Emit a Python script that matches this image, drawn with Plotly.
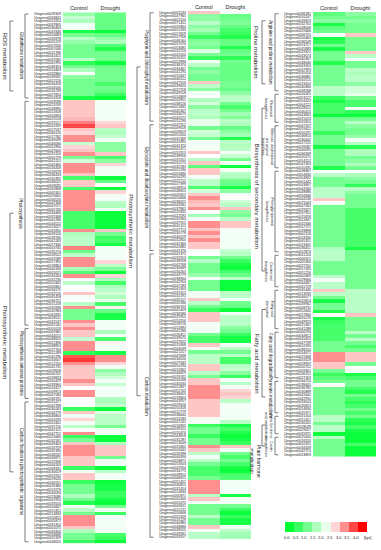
import plotly.graph_objects as go

W, H = 381, 550

# ---------------- DATA ----------------
col1_ids = """
0028309 0034841 0051824 0037865 0036463 0043346 0050683 0032878 0005229 0007006
0007046 0025786 0042415 0047085 0041995 0036353 0054463 0032860 0039081 0052126
0034458 0044506 0016739 0027854 0053318 0009098 0023749 0026890 0015658 0010843
0025518 0025517 0041929 0017537 0036120 0017782 0049099 0046066 0052960 0047600
0037416 0000729 0041152 0045460 0026458 0026678 0036433 0032492 0036025 0009635
0032868 0005301 0025662 0056526 0047308 0047071 0005746 0034466 0037468 0041286
0044522 0013027 0041850 0039116 0028746 0042263 0027340 0003745 0035274 0018522
0042589 0017392 0018864 0040184 0005015 0034264 0032230 0054305 0000801 0034175
0032526 0045458 0036722 0051258 0032696 0045983 0041845 0028511 0041537 0037242
0005018 0009382 0044015 0048620
0021390 0038853 0027764 0011289 0045296 0034007 0012250 0041731 0029658 0006741
0018823 0050429 0033960 0024417 0009913 0047580 0036191 0015477
0042768 0030263 0044779 0046804 0041093 0052401 0037716 0042115 0047752 0025660
0032181 0049463 0016759 0035390 0048242 0030871 0022908 0044163 0008345 0030619
0053742 0019020 0040551 0026384 0013276 0040094 0023086 0042950 0033503 0050667
0051451 0014834 0020815 0005872 0031454 0001075 0043400 0056668 0055329 0048025
""".split()

col1_control = [
    1.3, 1.7, 1.5, 2.1, 2.1, 0.2, 1.0, 1.6, 1.3, 1.0, 1.0, 1.0, 1.0, 1.6, 0.4, 1.0, 1.5, 2.2, 1.2, 1.0,
    1.0, 1.0, 1.0, 1.0, 0.2,
    2.6, 2.6, 2.6, 2.6, 2.6, 2.7, 3.1, 3.5, 2.6, 2.5,
    3.0, 3.0, 1.7, 2.5, 2.6, 3.0, 1.0, 1.8, 3.0, 3.0, 3.0, 2.6, 0.6, 2.6, 2.6, 0.6, 3.0, 3.0, 3.0, 3.0,
    3.0, 3.0, 0.6, 0.6, 0.6, 0.6, 0.6, 3.0, 1.5, 1.6, 1.6, 1.6, 3.1, 0.9, 1.6, 3.0, 3.0, 3.0, 1.4, 0.7,
    3.0, 2.2, 1.6, 2.2, 2.2, 2.6, 2.1, 2.2, 1.6, 3.0, 1.0, 1.0, 1.0, 3.0, 2.6, 3.0, 2.6, 2.6, 1.7, 3.0,
    3.0, 3.0, 0.4, 3.4, 3.6, 3.0, 2.6, 2.6, 2.6, 2.6, 3.0, 2.6, 2.2, 3.0, 3.0, 2.2, 2.2,
    2.2, 0.5, 2.6, 2.1, 2.5, 2.1, 1.6, 2.2, 3.0, 0.5, 1.0, 2.6, 3.0, 3.0, 3.0, 2.6, 2.6, 2.6, 0.5, 2.1,
    2.6, 2.6, 0.5, 1.0, 1.0, 1.0, 1.5, 1.0, 0.3, 2.1, 1.6, 1.0, 3.0, 3.0, 3.0, 2.6, 1.5, 1.0, 1.0, 0.5,
]
col1_drought = [
    0.9, 0.9, 0.9, 0.9, 0.9, 0.1, 0.9, 1.3, 1.5, 0.7, 0.3, 1.0, 1.0, 1.0, 0.1, 0.9, 1.0, 1.0, 1.0, 1.0,
    0.6, 1.0, 0.9, 0.5, 0.1,
    2.1, 2.1, 2.1, 2.1, 2.1, 2.1, 2.5, 2.6, 1.6, 1.5,
    1.7, 2.1, 1.2, 1.2, 1.2, 2.6, 0.6, 1.2, 2.5, 2.1, 2.1, 2.1, 0.1, 0.9, 2.2, 0.1, 2.5, 2.1, 2.1, 1.6,
    1.5, 2.1, 0.1, 0.1, 0.1, 0.1, 0.1, 2.6, 1.0, 0.5, 0.6, 0.2, 2.1, 2.1, 2.1, 2.1, 2.5, 1.6, 1.1, 0.1,
    2.5, 1.5, 0.6, 1.5, 1.6, 1.8, 1.5, 2.0, 0.6, 2.3, 0.9, 0.2, 0.2, 2.1, 2.1, 2.1, 1.5, 2.1, 0.6, 2.3,
    2.1, 2.1, 0.2, 3.0, 3.0, 2.5, 2.1, 1.2, 1.5, 1.8, 2.1, 1.7, 2.1, 2.1, 2.1, 1.5, 1.5,
    1.7, 0.1, 1.9, 1.6, 1.6, 1.6, 1.0, 2.1, 2.1, 0.1, 0.1, 1.5, 2.6, 2.6, 2.6, 1.0, 2.1, 2.1, 0.1, 1.6,
    2.1, 2.1, 0.1, 0.2, 0.2, 0.5, 0.5, 0.2, 0.1, 1.0, 2.1, 0.5, 2.1, 2.1, 2.1, 2.1, 2.1, 0.6, 0.5, 0.1,
]

col2_ids = """
0002243 0047965 0011150 0071451 0032860 0051333 0017659 0017958 0046160 0057070
0053085 0032216 0041024 0016251 0052896 0036374 0044461 0041295 0015637 0046112
0047316 0039624 0027118 0049518 0014809 0032851 0038126 0021845 0045307 0033079
0040572 0052290 0047312 0049618 0009619 0052050 0041369 0041892 0041370 0041371
0051913 0038956 0037451 0031575 0032183 0052190 0050846 0054295 0025715 0027399
0048914 0048815 0045815 0050666 0038415 0043581 0037862 0025832 0022592 0031964
0047315 0045112 0047713 0030778 0040519 0032850 0041360 0041882 0041376 0041372
0031913 0038958 0042768 0030849 0030263 0044779 0038904 0042954 0047183 0041903
0037412 0032192 0035117 0032186 0030763 0042409 0036586 0025952 0053256 0028716
0011893 0042286 0026451 0039075 0037622 0015908 0044039 0021157 0047698 0034520
0027583 0050294 0013362 0046829 0019741 0033268 0045630 0022847 0051702 0038455
0018664 0043957 0029016 0050318 0012779 0036640 0024183 0047241 0016905 0039552
0020476 0044818 0031287 0053009
0025802 0041642 0026398 0040094 0028871 0053503 0042950 0034773 0048914 0046815
0051451 0030815 0031454 0014834 0005871 0041400 0001075 0043611 0015211 0056668
0055329 0025129 0040885 0048686 0039015 0043581 0033557
""".split()

col2_control = [
    2.6, 1.2, 1.2, 1.6, 1.2, 1.4, 1.0, 0.5, 1.1, 1.2, 1.0, 1.9, 1.1, 0.5, 2.1, 1.6, 1.0, 1.2, 1.0, 1.0,
    2.6, 1.6, 1.2, 2.1, 2.2, 1.5, 1.8, 1.2, 1.6, 1.6, 1.5, 2.0,
    2.0, 1.0, 1.8, 1.7,
    1.0, 2.1, 2.1, 2.1, 2.6, 2.2, 1.6, 2.6, 0.8, 2.6, 2.6, 2.1, 1.6, 1.6, 0.7, 1.8, 2.6, 3.0, 2.7, 2.6,
    3.0, 2.2, 1.4, 2.1, 3.0, 3.0, 2.6, 3.0, 2.6, 3.0, 2.6, 2.6, 2.1, 2.2, 1.0, 1.6, 1.0, 1.0, 1.0,
    1.3, 2.1, 1.0, 1.0, 1.0, 2.1, 2.1, 2.6, 1.6, 1.0, 0.5, 2.6, 2.6, 2.6, 2.1, 2.1, 2.1, 1.0, 0.6, 0.6,
    2.6, 2.1, 1.0, 1.6, 1.6, 1.6, 2.6, 2.6, 1.6, 1.0, 2.6, 2.6, 3.0, 3.0, 3.0, 3.0, 2.6, 2.6, 2.6,
    2.6, 2.6, 2.1, 2.1, 0.5, 1.0, 1.0, 0.5, 1.0, 1.0, 3.0, 2.6, 1.6, 2.1, 1.6, 1.0, 0.6, 0.6, 0.6, 1.0,
    3.0, 3.0, 3.0, 3.0, 1.6, 2.6, 2.1, 1.0, 1.0, 1.0, 1.6, 1.0, 1.0, 2.6, 2.1, 1.6, 1.6,
]
col2_drought = [
    2.1, 0.9, 1.0, 1.1, 0.9, 0.6, 0.5, 0.3, 0.9, 0.9, 0.3, 0.9, 1.0, 0.4, 1.0, 0.9, 0.9, 0.9, 0.9, 0.9,
    1.0, 1.0, 0.9, 1.2, 1.6, 1.6, 1.0, 0.6, 1.0, 1.4, 1.1, 1.6,
    1.5, 0.9, 1.2, 1.4,
    0.3, 1.6, 1.5, 1.6, 2.1, 1.7, 1.0, 2.1, 0.1, 2.1, 1.6, 1.5, 1.0, 0.9, 0.2, 1.2, 2.1, 2.2, 1.8, 1.6,
    2.6, 1.2, 1.0, 1.6, 2.6, 2.6, 2.1, 2.1, 2.1, 2.1, 2.1, 2.1, 1.7, 1.6, 1.0, 0.5, 0.2, 0.1, 0.6,
    0.9, 1.6, 0.1, 0.1, 0.1, 1.6, 1.6, 2.1, 1.0, 0.9, 0.1, 2.1, 1.6, 1.6, 1.6, 1.2, 1.0, 0.5, 0.2, 0.2,
    2.1, 1.6, 1.0, 1.6, 0.6, 0.6, 1.6, 1.7, 1.2, 0.5, 2.1, 1.6, 2.1, 2.5, 2.6, 2.5, 1.6, 2.1, 2.1,
    2.1, 2.1, 2.1, 1.6, 0.2, 0.6, 0.3, 0.1, 0.2, 0.5, 2.6, 2.1, 1.0, 0.6, 1.0, 0.6, 0.2, 0.1, 0.6, 0.7,
    2.1, 2.1, 2.1, 2.1, 0.2, 2.1, 2.1, 1.0, 0.5, 0.1, 0.5, 0.2, 0.2, 2.1, 1.6, 1.4, 1.4,
]

col3_ids = """
0036281 0010247 0028323 0032701 0048008 0059466 0006721 0050463 0036549 0053717
0045883 0029322 0043574 0040367 0048046 0003163 0037993 0035454 0036881 0050515
0023410 0040366 0048268 0016325 0053127 0054423 0004122 0028012 0040415 0043832
0015013 0055815 0047207 0019412 0050231 0036814 0030042 0027125 0026087 0040095
0046309 0020175 0054152 0047303 0010335 0036867 0054830 0054832 0001442 0043807
0044184 0048886 0050846 0044136 0021043 0047262 0029327 0037951 0015818 0011847
0032346 0057172 0033898 0002118 0024330 0045351 0013405 0036451 0052874 0011254
0000551 0005356 0027701 0017335 0055226 0002469 0029666 0044467 0001729 0045446
0013590 0046077 0022814 0039962 0008731 0052605 0017844 0031176 0049923 0025367
0041288 0006594 0034812 0020453 0047739 0011926 0038250 0054671 0027408 0043119
0018937 0050752 0009461
0036152 0027163 0034254 0038405 0036782 0030889 0041642 0042950 0033503 0020815
0014834 0025971 0031454 0051451 0030241 0028028 0029027 0031871 0025420 0016520
0050911 0034328 0042713 0053893
""".split()

col3_control = [
    0.8, 1.0, 1.2, 0.2, 0.8, 1.0, 2.1, 0.2, 0.4, 1.0, 0.2, 1.0, 1.0, 1.0, 0.3, 1.0, 1.0, 1.0, 1.0, 1.0,
    1.0, 1.6, 1.6, 1.6, 0.5, 0.2, 0.6, 0.6, 0.6, 0.1, 1.0, 1.0, 1.0, 1.0, 0.5, 1.0,
    1.0, 1.0, 0.2, 1.0, 1.0, 1.0, 1.0, 1.0, 0.3, 2.2, 1.6, 1.0, 1.0, 1.0, 1.6, 1.6, 1.6, 2.6, 2.1, 1.0,
    1.0, 1.0, 1.0, 1.0, 1.0, 1.0, 1.0, 1.0, 1.0, 1.0, 1.0, 1.5, 1.6, 1.6, 1.6, 1.0, 1.0, 1.0,
    1.0, 1.6, 2.1, 1.6, 1.6, 2.6, 1.6, 1.0, 0.2, 1.0, 1.0, 0.3, 2.2, 0.2, 0.5, 0.6, 0.6, 0.6, 0.6, 0.6,
    1.0, 1.0, 1.0, 3.0, 3.0, 3.0, 2.6, 2.6, 1.0, 0.5, 0.8, 1.0, 2.2, 1.0, 1.0, 1.0, 1.0, 1.0, 1.0,
    1.0, 1.0, 1.6, 1.6, 1.0, 1.6, 1.6, 0.1, 1.6, 1.0, 1.0, 1.0, 1.0, 1.0,
]
col3_drought = [
    1.2, 1.0, 1.2, 1.0, 1.0, 1.0, 2.6, 1.0, 1.0, 1.0, 1.0, 2.6, 1.6, 2.1, 1.0, 1.0, 1.6, 1.5, 1.6, 1.6,
    1.2, 1.8, 1.8, 2.0, 1.0, 0.6, 0.6, 2.1, 0.4, 0.1, 1.0, 1.6, 1.2, 1.0, 1.0, 1.3,
    2.1, 1.6, 0.3, 1.5, 1.5, 1.0, 1.2, 1.5, 1.0, 2.2, 1.5, 1.2, 1.0, 0.4, 1.6, 1.2, 1.0, 1.0, 1.0, 1.0,
    0.6, 0.6, 0.6, 0.6, 0.6, 0.6, 0.6, 0.6, 0.6, 0.6, 0.6, 0.2, 1.0, 1.0, 1.0, 1.0, 1.0, 1.0,
    1.0, 1.0, 1.0, 1.0, 1.0, 1.6, 1.6, 1.6, 1.6, 1.6, 1.6, 1.6, 2.6, 1.0, 1.0, 1.0, 1.0, 1.6, 1.0, 1.6,
    1.0, 0.6, 1.0, 2.6, 2.6, 2.6, 1.0, 2.2, 2.1, 0.2, 0.6, 1.0, 1.0, 0.6, 0.3, 1.0, 0.6, 0.4, 0.6,
    1.0, 0.6, 1.0, 0.4, 0.2, 0.6, 0.2, 0.1, 0.1, 0.1, 0.6, 0.1, 0.1, 0.1,
]

conditions = ["Control", "Drought"]

# (label, first row, last row)
col1_groups = [("Glutathione metabolism", 0, 24),
               ("Photosynthesis", 25, 89),
               ("Photosynthesis antenna proteins", 90, 110),
               ("Carbon fixation in photosynthetic organisms", 111, 151)]
col1_main = [("ROS metabolism", 2, 22, None), ("Photosynthetic metabolism", 57, 131, None)]

col2_groups = [("Porphyrin and chlorophyll metabolism", 0, 31),
               ("Glyoxylate and dicarboxylate metabolism", 32, 68),
               ("Carbon metabolism", 69, 150)]
col2_main = [("Photosynthetic metabolism", 15.5, 109.5, None)]

col3_groups = [("Arginine and proline metabolism", 0, 22),
               ("Flavonoid<br>biosynthesis", 23, 31),
               ("Stilbenoid, diarylheptanoid<br>and gingerol<br>biosynthesis", 32, 44),
               ("Phenylpropanoid<br>biosynthesis", 45, 68),
               ("Carotenoid<br>biosynthesis", 69, 78),
               ("Fatty acid<br>elongation", 79, 90),
               ("Fatty acid degradation", 91, 104),
               ("Pyruvate metabolism", 105, 114),
               ("alpha-Linolenic<br>acid metabolism", 115, 120),
               ("Zeatin<br>biosynthesis", 121, 126)]
# last item: optional label centre row (None = bracket centre)
col3_main = [("Proline metabolism", 2, 20, None),
             ("Biosynthesis of secondary metabolism", 27, 73.5, 52),
             ("Fatty acid metabolism", 84.5, 109.5, 100),
             ("Plant hormone<br>metabolism", 117.5, 123.5, 128)]

legend_values = [0.0, 0.5, 1.0, 1.5, 2.0, 2.5, 3.0, 3.5, 4.0]
legend_unit = "[lgx]"

# ---------------- STYLE ----------------
colorscale = [[0.0, "#00ff33"], [0.55, "#ffffff"], [1.0, "#ff0000"]]
FONT = "Arial"
TXT = "#222222"
LC = "#444444"


def X(p):
    return p / W


def Y(p):
    return 1 - p / H


fig = go.Figure()
shapes = []
annotations = []

columns = [
    dict(ids=col1_ids, c=col1_control, d=col1_drought, box=(63, 126, 12.3, 543.5),
         groups=col1_groups, main=col1_main, bo=10, bi=25),
    dict(ids=col2_ids, c=col2_control, d=col2_drought, box=(188, 251, 11.0, 539.0),
         groups=col2_groups, main=col2_main, bo=137, bi=150),
    dict(ids=col3_ids, c=col3_control, d=col3_drought, box=(313, 376, 12.0, 456.5),
         groups=col3_groups, main=col3_main, bo=262, bi=275),
]


def line(x0, y0, x1, y1):
    shapes.append(dict(type="line", xref="paper", yref="paper",
                       x0=X(x0), y0=Y(y0), x1=X(x1), y1=Y(y1),
                       line=dict(color=LC, width=0.7)))


def label(x, y, text, size):
    annotations.append(dict(x=X(x), y=Y(y), xref="paper", yref="paper", text=text,
                            showarrow=False, textangle=90, xanchor="center", yanchor="middle",
                            font=dict(size=size, family=FONT, color=TXT)))


for k, col in enumerate(columns, start=1):
    n = len(col["c"])
    x0, x1, y0, y1 = col["box"]
    rh = (y1 - y0) / n
    z = [[c, d] for c, d in zip(col["c"], col["d"])]
    names = ["Unigene" + s for s in col["ids"]][:n]
    names += [""] * (n - len(names))
    sfx = "" if k == 1 else str(k)
    fig.add_trace(go.Heatmap(z=z, x=[0, 1], y=list(range(n)), zmin=0, zmax=4,
                             colorscale=colorscale, showscale=False,
                             xaxis="x" + sfx, yaxis="y" + sfx, hoverinfo="skip"))
    fig.layout["xaxis" + sfx] = dict(
        domain=[X(x0), X(x1)], anchor="y" + sfx, side="top", range=[-0.5, 1.5],
        tickvals=[0, 1], ticktext=conditions, ticks="", showgrid=False, zeroline=False,
        automargin=False, tickfont=dict(size=5.5, family=FONT, color=TXT), ticklabelstandoff=0)
    fig.layout["yaxis" + sfx] = dict(
        domain=[Y(y1), Y(y0)], anchor="x" + sfx, range=[n - 0.5, -0.5],
        tickvals=list(range(n)), ticktext=names, ticks="", showgrid=False, zeroline=False,
        automargin=False, tickfont=dict(size=3.5, family=FONT, color=TXT), ticklabelstandoff=1)

    bi, bo = col["bi"], col["bo"]
    for text, r0, r1 in col["groups"]:
        ya0 = y0 + rh * (r0 + 0.5)
        ya1 = y0 + rh * (r1 + 0.5)
        line(bi, ya0, bi, ya1)
        line(bi, ya0, bi + 3.5, ya0)
        line(bi, ya1, bi + 3.5, ya1)
        nl = text.count("<br>") + 1
        size = 4.5 if nl == 1 else (3.8 if nl == 2 else 3.2)
        label(bi - 1.2 - 0.62 * size * nl, (ya0 + ya1) / 2, text, size)
    for text, r0, r1, rc in col["main"]:
        ya0 = y0 + rh * (r0 + 0.5)
        ya1 = y0 + rh * (r1 + 0.5)
        line(bo, ya0, bo, ya1)
        line(bo, ya0, bo + 3.5, ya0)
        line(bo, ya1, bo + 3.5, ya1)
        nl = text.count("<br>") + 1
        size = 6.2 if nl == 1 else 5.0
        yc = (ya0 + ya1) / 2 if rc is None else y0 + rh * (rc + 0.5)
        label(bo - 1.0 - 0.62 * size * nl, yc, text, size)

# legend bar
fig.add_trace(go.Heatmap(z=[legend_values], x=list(range(len(legend_values))), y=[0],
                         zmin=0, zmax=4, colorscale=colorscale, showscale=False,
                         xaxis="x4", yaxis="y4", hoverinfo="skip"))
fig.layout["xaxis4"] = dict(domain=[X(285), X(367)], anchor="y4", showticklabels=False,
                            ticks="", showgrid=False, zeroline=False, automargin=False)
fig.layout["yaxis4"] = dict(domain=[Y(532), Y(522)], anchor="x4", showticklabels=False,
                            ticks="", showgrid=False, zeroline=False, automargin=False)
for i, v in enumerate(legend_values):
    annotations.append(dict(x=X(287 + 8.6 * i), y=Y(537.5), xref="paper", yref="paper",
                            text=f"{v:.1f}", showarrow=False, xanchor="center", yanchor="middle",
                            font=dict(size=4.0, family=FONT, color=TXT)))
annotations.append(dict(x=X(367), y=Y(537.5), xref="paper", yref="paper", text=legend_unit,
                        showarrow=False, xanchor="center", yanchor="middle",
                        font=dict(size=4.0, family=FONT, color=TXT)))

fig.update_layout(width=W, height=H, autosize=False, margin=dict(l=0, r=0, t=0, b=0),
                  paper_bgcolor="white", plot_bgcolor="white", showlegend=False,
                  shapes=shapes, annotations=annotations)

fig.write_html("out.html", config={"displayModeBar": False, "staticPlot": True},
               post_script="document.body.style.margin='0';document.body.style.padding='0';"
                           "document.body.style.overflow='hidden';")
